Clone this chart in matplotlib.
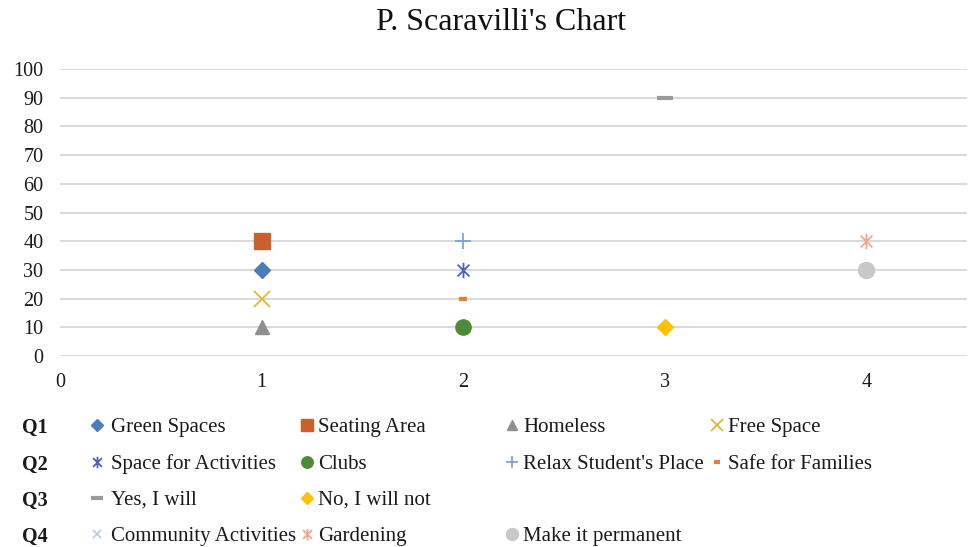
import numpy as np
import matplotlib.pyplot as plt
from matplotlib.path import Path
from matplotlib.lines import Line2D

plt.rcParams['font.family'] = ['Liberation Serif', 'DejaVu Serif']

# survey answers: question number (x) and share of answers (y)
names = ["Green Spaces", "Seating Area", "Homeless", "Free Space",
         "Space for Activities", "Clubs", "Relax Student's Place", "Safe for Families",
         "Yes, I will", "No, I will not",
         "Community Activities", "Gardening", "Make it permanent"]
question = [1, 1, 1, 1,
            2, 2, 2, 2,
            3, 3,
            4, 4, 4]
values = [30, 40, 10, 20,
          30, 10, 40, 20,
          90, 10,
          30, 40, 30]
row_labels = ["Q1", "Q2", "Q3", "Q4"]

# Excel-style star: an x with a vertical bar through it
star = Path([(-1, -1), (1, 1), (-1, 1), (1, -1), (0, -1.3), (0, 1.3)],
            [Path.MOVETO, Path.LINETO, Path.MOVETO, Path.LINETO, Path.MOVETO, Path.LINETO])

styles = [
    dict(marker='D', color='#4A7EBB', ms=8),
    dict(marker='s', color='#C8612B', ms=11),
    dict(marker='^', color='#8F8F8F', ms=10),
    dict(marker='x', color='#E2B838', ms=11, mew=1.3),
    dict(marker=star, color='#4A66AE', ms=11, mew=1.3),
    dict(marker='o', color='#4F8A37', ms=11),
    dict(marker='+', color='#6E9FD8', ms=11, mew=1.2),
    dict(marker='_', color='#EE7B30', ms=6, mew=3),
    dict(marker='_', color='#9A9A9A', ms=11, mew=3),
    dict(marker='D', color='#FFC000', ms=8),
    dict(marker='x', color='#B9CBE8', ms=8, mew=1.2),
    dict(marker=star, color='#F2A88E', ms=11, mew=1.3),
    dict(marker='o', color='#C8C8C8', ms=11.5),
]

fig = plt.figure(figsize=(9.68, 5.47), dpi=100)
ax = fig.add_axes([60 / 968, 1 - 356 / 547, 907 / 968, 287 / 547])

for x, y, st in zip(question, values, styles):
    ax.plot([x], [y], linestyle='none', zorder=3, **st)

ax.set_xlim(0, 4.5)
ax.set_ylim(0, 100)
ax.set_xticks([0, 1, 2, 3, 4])
ax.set_yticks(np.arange(0, 101, 10))
ax.grid(axis='y', color='#D9D9D9', linewidth=1.4)
ax.set_axisbelow(True)
for s in ax.spines.values():
    s.set_visible(False)
ax.tick_params(length=0, labelsize=14.5, colors='#1a1a1a')
ax.tick_params(axis='x', pad=12)
ax.tick_params(axis='y', pad=12)

fig.text(501 / 968, 1 - 23 / 547, "P. Scaravilli's Chart", ha='center', va='center',
         fontsize=23, color='#111111')

# legend grouped by question, one row per question
rows_y = [425, 462, 498, 534]
col_marker_x = [97, 307, 512, 717]
col_text_x = [111, 318, 523, 728]
legend_slots = [(0, 0), (0, 1), (0, 2), (0, 3),
                (1, 0), (1, 1), (1, 2), (1, 3),
                (2, 0), (2, 1),
                (3, 0), (3, 1), (3, 2)]

for r, lab in enumerate(row_labels):
    fig.text(22 / 968, 1 - rows_y[r] / 547, lab, ha='left', va='center_baseline',
             fontsize=14.5, fontweight='bold', color='#1a1a1a')

for (r, c), name, st in zip(legend_slots, names, styles):
    yf = 1 - rows_y[r] / 547
    st_leg = dict(st)
    st_leg['ms'] = st['ms'] * 0.75
    fig.add_artist(Line2D([col_marker_x[c] / 968], [yf], linestyle='none',
                          transform=fig.transFigure, **st_leg))
    fig.text(col_text_x[c] / 968, yf, name, ha='left', va='center_baseline',
             fontsize=15, color='#1a1a1a')

fig.savefig('out.png', dpi=100)
